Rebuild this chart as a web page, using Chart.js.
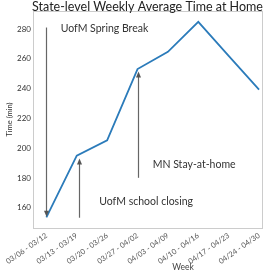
<!DOCTYPE html>
<html>
<head>
<meta charset="utf-8">
<script src="https://cdn.jsdelivr.net/npm/chart.js@4"></script>
<style>
  html, body { margin: 0; padding: 0; background: #fff; }
</style>
</head>
<body>
<canvas id="home-chart" width="272" height="272"></canvas>
<script>
const weeks = ['03/06 - 03/12', '03/13 - 03/19', '03/20 - 03/26', '03/27 - 04/02',
  '04/03 - 04/09', '04/10 - 04/16', '04/17 - 04/23', '04/24 - 04/30']
const minutesAtHome = [153.5, 195.0, 205.3, 253.1, 264.7, 284.8, 262.0, 239.3]
const yTicks = [160, 180, 200, 220, 240, 260, 280]

// events: text position and arrow (tail -> head) in data units
const events = [
  { text: 'UofM Spring Break', tx: 0.47, ty: 280, ax: 0, ay0: 281, ay1: 154 },
  { text: 'UofM school closing', tx: 1.74, ty: 164.2, ax: 1.09, ay0: 153.3, ay1: 193 },
  { text: 'MN Stay-at-home', tx: 3.5, ty: 188.8, ax: 3.0, ay0: 180.1, ay1: 251.5 }
]

const font = 'Lato'
const textColor = '#333'

const extras = {
  id: 'extras',
  afterDatasetsDraw(chart) {
    const { ctx, chartArea: a, scales: { x, y } } = chart
    ctx.save()

    // frame
    ctx.strokeStyle = '#cccccc'
    ctx.lineWidth = 1
    ctx.strokeRect(a.left + 0.5, a.top + 0.5, a.right - a.left - 1, a.bottom - a.top)

    // arrows + notes
    events.forEach(e => {
      const px = Math.round(x.getPixelForValue(e.ax)) + 0.5
      const y0 = y.getPixelForValue(e.ay0)
      const y1 = y.getPixelForValue(e.ay1)
      const dir = y1 > y0 ? 1 : -1
      ctx.strokeStyle = '#666'
      ctx.fillStyle = '#555'
      ctx.lineWidth = 1.2
      ctx.beginPath()
      ctx.moveTo(px, y0)
      ctx.lineTo(px, y1 - dir * 4)
      ctx.stroke()
      ctx.beginPath()
      ctx.moveTo(px, y1)
      ctx.lineTo(px - 2.5, y1 - dir * 6)
      ctx.lineTo(px + 2.5, y1 - dir * 6)
      ctx.closePath()
      ctx.fill()

      ctx.fillStyle = textColor
      ctx.font = `10.5px ${font}`
      ctx.textAlign = 'left'
      ctx.textBaseline = 'middle'
      ctx.fillText(e.text, x.getPixelForValue(e.tx), y.getPixelForValue(e.ty))
    })

    // title and x label
    ctx.textAlign = 'center'
    ctx.textBaseline = 'middle'
    ctx.fillStyle = '#222'
    ctx.font = `12.5px ${font}`
    ctx.fillText('State-level Weekly Average Time at Home', 147.5, 7)
    ctx.fillStyle = '#444'
    ctx.font = `8.5px ${font}`
    ctx.fillText('Week', 183, 267)

    ctx.restore()
  }
}

new Chart(document.getElementById('home-chart'), {
  type: 'line',
  data: {
    datasets: [{
      label: 'Time at home',
      data: minutesAtHome.map((v, i) => ({ x: i, y: v })),
      borderColor: '#2b7bba',
      borderWidth: 1.8,
      pointRadius: 0,
      tension: 0,
      fill: false
    }]
  },
  options: {
    responsive: false,
    animation: false,
    devicePixelRatio: 1,
    layout: { padding: { top: 11, right: 9, left: 0, bottom: 0 } },
    plugins: {
      legend: { display: false },
      tooltip: { enabled: false }
    },
    scales: {
      x: {
        type: 'linear',
        min: -0.44,
        max: 7.13,
        afterBuildTicks: scale => { scale.ticks = weeks.map((w, i) => ({ value: i })) },
        afterFit: scale => { scale.height = 44 },
        grid: { display: false, drawTicks: false },
        border: { display: false },
        ticks: {
          callback: v => weeks[v],
          minRotation: 35,
          maxRotation: 35,
          autoSkip: false,
          padding: 3,
          color: '#555',
          font: { family: font, size: 7.5 }
        }
      },
      y: {
        min: 146.4,
        max: 292.1,
        afterBuildTicks: scale => { scale.ticks = yTicks.map(v => ({ value: v })) },
        afterFit: scale => { scale.width = 33 },
        grid: { display: false, drawTicks: false },
        border: { display: false },
        title: {
          display: true,
          text: 'Time (min)',
          color: textColor,
          padding: { top: 5, bottom: 0 },
          font: { family: font, size: 7.5 }
        },
        ticks: {
          padding: 2,
          color: textColor,
          font: { family: font, size: 8 }
        }
      }
    }
  },
  plugins: [extras]
})
</script>
</body>
</html>
